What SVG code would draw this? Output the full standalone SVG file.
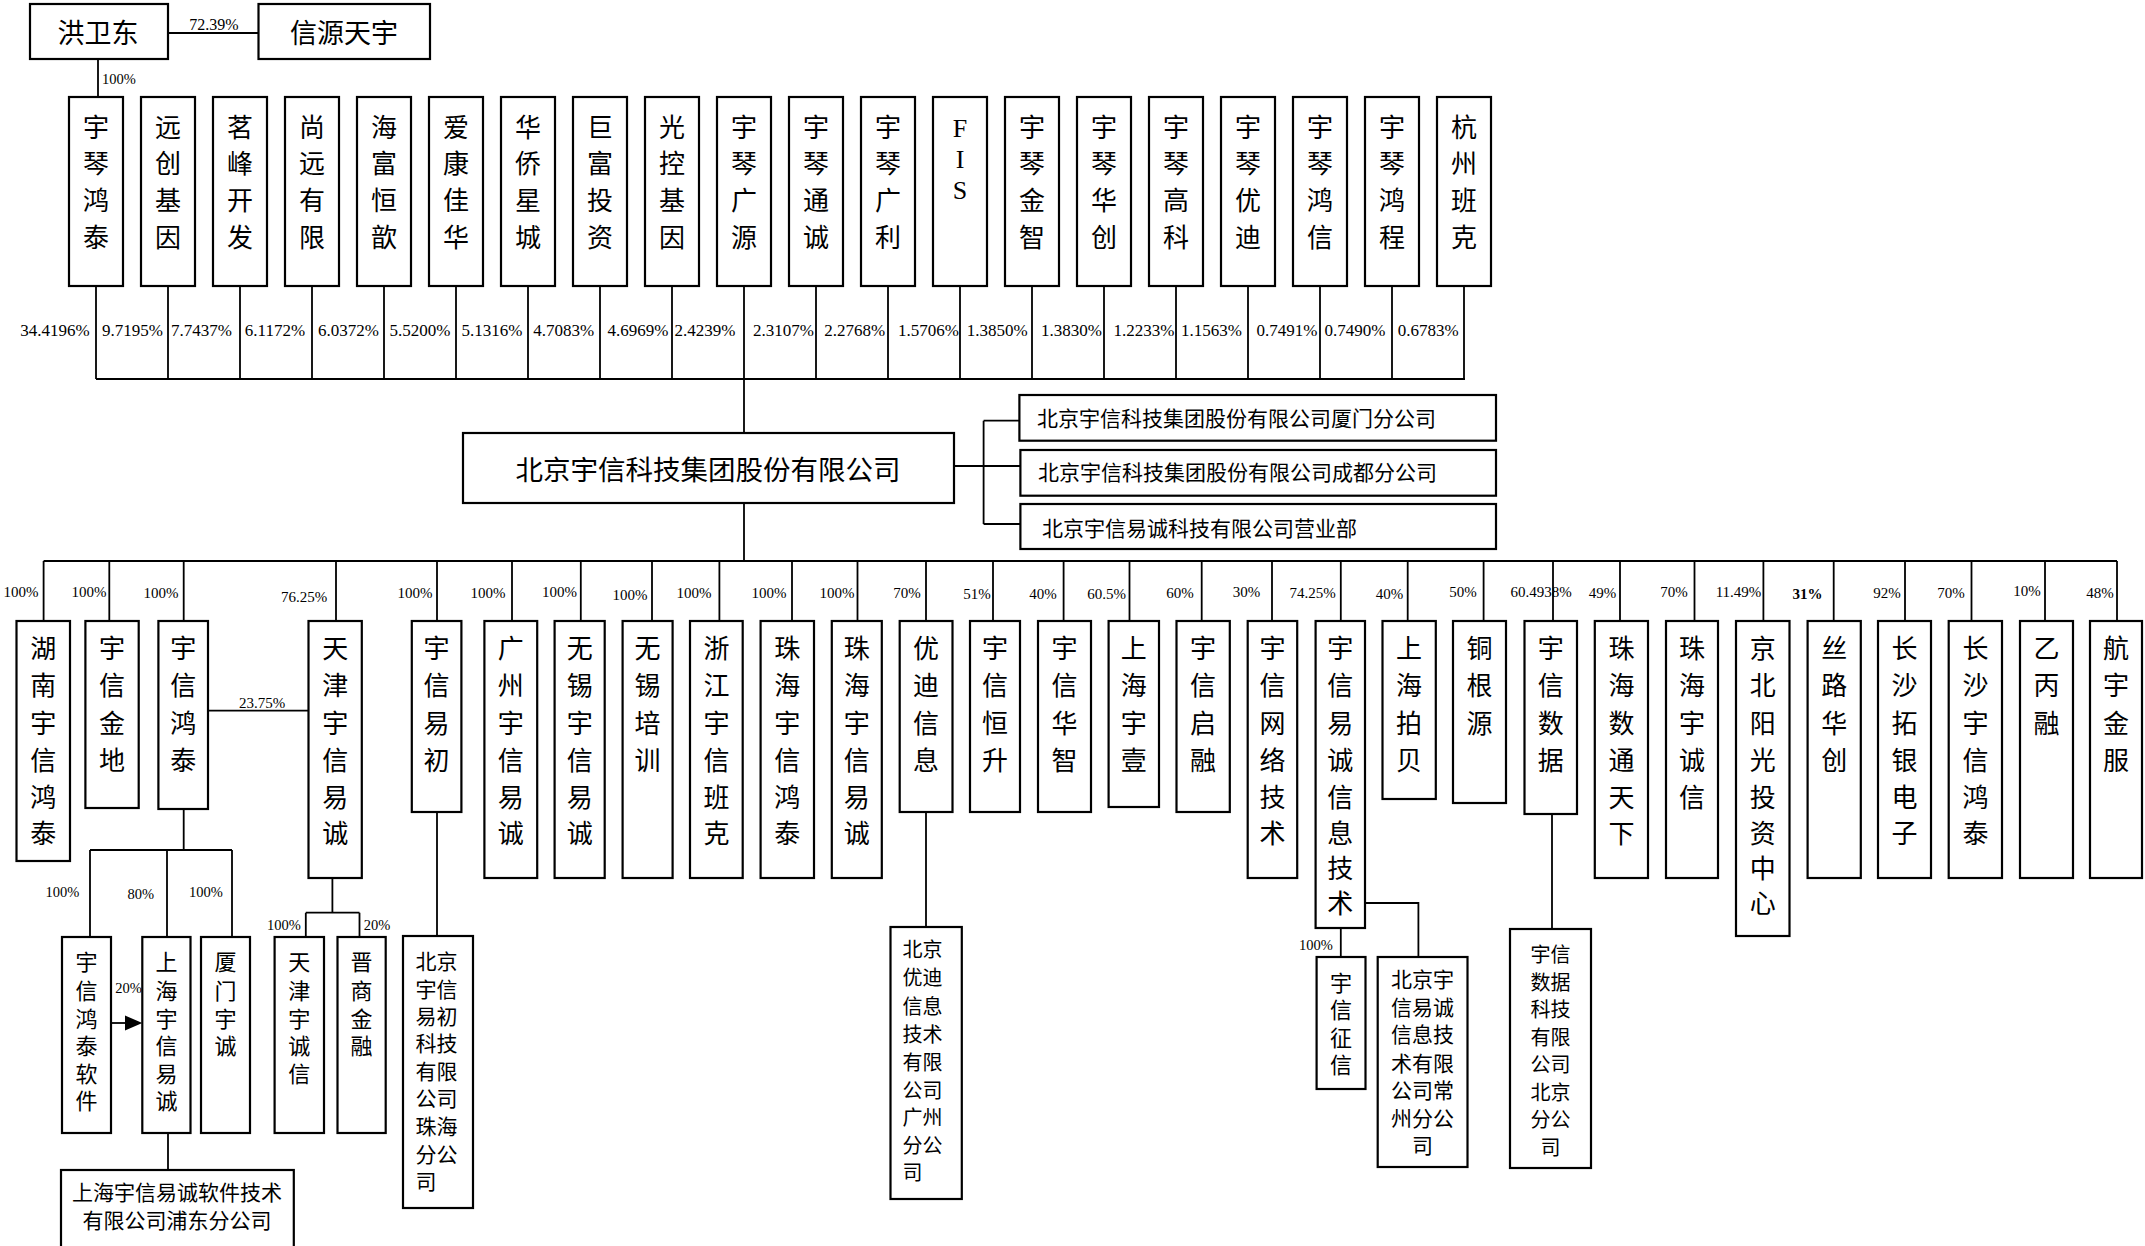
<svg xmlns="http://www.w3.org/2000/svg" width="2145" height="1246" viewBox="0 0 2145 1246">
<style>
rect{fill:#fff;stroke:#000;stroke-width:2.2}
.c path,.c line,.c polyline{fill:none;stroke:#000;stroke-width:1.8}
.c polygon{fill:#000;stroke:none}
text{font-family:"Liberation Serif","Noto Sans CJK SC",serif;fill:#000}
.v{font-size:26px;text-anchor:middle}
.s{font-size:22px;text-anchor:middle}
.m{font-size:21px}
.p{font-size:17px;text-anchor:middle}
.q{font-size:15px;text-anchor:middle}
.r{font-size:14.5px;text-anchor:middle}
.lat{font-family:"Liberation Serif",serif;font-size:26px;text-anchor:middle}
</style>

<g id="connectors" class="c">
<line x1="168" y1="33" x2="258.5" y2="33"/>
<line x1="98" y1="59" x2="98" y2="97"/>
<path d="M96,286V379 M168,286V379 M240,286V379 M312,286V379 M384,286V379 M456,286V379 M528,286V379 M600,286V379 M672,286V379 M744,286V379 M816,286V379 M888,286V379 M960,286V379 M1032,286V379 M1104,286V379 M1176,286V379 M1248,286V379 M1320,286V379 M1392,286V379 M1464,286V379"/>
<line x1="96" y1="379" x2="1465" y2="379"/>
<line x1="744" y1="379" x2="744" y2="433"/>
<line x1="954" y1="466" x2="1020" y2="466"/>
<path d="M983.6,420.7V524 M983.6,420.7H1019.4 M983.6,524H1020"/>
<line x1="744" y1="503" x2="744" y2="561"/>
<line x1="43.6" y1="561" x2="2117" y2="561"/>
<path d="M43.6,561V621 M109.3,561V621 M183.7,561V621 M336,561V621 M437,561V621 M512,561V621 M580.8,561V621 M652,561V621 M719.4,561V621 M792,561V621 M857.5,561V621 M926,561V621 M993,561V621 M1063.6,561V621 M1129.5,561V621 M1201.7,561V621 M1272,561V621 M1340.8,561V621 M1407.7,561V621 M1483.6,561V621 M1553,561V621 M1620,561V621 M1694.5,561V621 M1763.4,561V621 M1833.7,561V621 M1905,561V621 M1971.5,561V621 M2045,561V621 M2117,561V621"/>
<line x1="208" y1="710.7" x2="308.5" y2="710.7"/>
<path d="M183.7,809V850 M90,850H232 M90,850V937 M167,850V937 M232,850V937"/>
<line x1="111" y1="1023" x2="126" y2="1023"/>
<polygon points="125,1015.5 142.3,1023 125,1030.5"/>
<line x1="168" y1="1133" x2="168" y2="1170"/>
<path d="M332.4,878V912.7 M305.8,912.7H359.5 M305.8,912.7V937 M359.5,912.7V937"/>
<line x1="437" y1="812" x2="437" y2="936"/>
<line x1="926" y1="812" x2="926" y2="927"/>
<line x1="1340.8" y1="928" x2="1340.8" y2="957"/>
<polyline points="1365,903 1418.4,903 1418.4,957"/>
<line x1="1552" y1="814" x2="1552" y2="929"/>
</g>

<g id="labels">
<text class="p" x="214" y="30" style="font-size:16px">72.39%</text>
<text class="r" x="119" y="84">100%</text>
<text class="p" x="55" y="336">34.4196%</text>
<text class="p" x="132.5" y="336">9.7195%</text>
<text class="p" x="201.5" y="336">7.7437%</text>
<text class="p" x="275" y="336">6.1172%</text>
<text class="p" x="348.5" y="336">6.0372%</text>
<text class="p" x="420" y="336">5.5200%</text>
<text class="p" x="492" y="336">5.1316%</text>
<text class="p" x="563.6" y="336">4.7083%</text>
<text class="p" x="638" y="336">4.6969%</text>
<text class="p" x="705" y="336">2.4239%</text>
<text class="p" x="783.5" y="336">2.3107%</text>
<text class="p" x="854.6" y="336">2.2768%</text>
<text class="p" x="928.4" y="336">1.5706%</text>
<text class="p" x="997.3" y="336">1.3850%</text>
<text class="p" x="1071.4" y="336">1.3830%</text>
<text class="p" x="1144" y="336">1.2233%</text>
<text class="p" x="1211.5" y="336">1.1563%</text>
<text class="p" x="1287" y="336">0.7491%</text>
<text class="p" x="1355" y="336">0.7490%</text>
<text class="p" x="1428.3" y="336">0.6783%</text>
<text class="q" x="21" y="597">100%</text>
<text class="q" x="89" y="597">100%</text>
<text class="q" x="161" y="598">100%</text>
<text class="q" x="304" y="602">76.25%</text>
<text class="q" x="415" y="598">100%</text>
<text class="q" x="488" y="598">100%</text>
<text class="q" x="559.5" y="597">100%</text>
<text class="q" x="630" y="600">100%</text>
<text class="q" x="694" y="598">100%</text>
<text class="q" x="769" y="598">100%</text>
<text class="q" x="837" y="598">100%</text>
<text class="q" x="907" y="598">70%</text>
<text class="q" x="977" y="599">51%</text>
<text class="q" x="1043" y="599">40%</text>
<text class="q" x="1106.7" y="599">60.5%</text>
<text class="q" x="1180" y="598">60%</text>
<text class="q" x="1246.5" y="597">30%</text>
<text class="q" x="1312.5" y="598">74.25%</text>
<text class="q" x="1389.5" y="599">40%</text>
<text class="q" x="1463" y="597">50%</text>
<text class="q" x="1541" y="597">60.4938%</text>
<text class="q" x="1602.5" y="598">49%</text>
<text class="q" x="1674" y="597">70%</text>
<text class="q" x="1738.5" y="597">11.49%</text>
<text class="q" x="1807.5" y="599" font-weight="bold">31%</text>
<text class="q" x="1887" y="598">92%</text>
<text class="q" x="1951" y="598">70%</text>
<text class="q" x="2027" y="596">10%</text>
<text class="q" x="2100" y="598">48%</text>
<text class="q" x="262" y="708">23.75%</text>
<text class="r" x="62.5" y="897">100%</text>
<text class="r" x="140.7" y="899">80%</text>
<text class="r" x="206" y="897">100%</text>
<text class="r" x="128.5" y="993">20%</text>
<text class="r" x="284" y="930">100%</text>
<text class="r" x="377" y="930">20%</text>
<text class="r" x="1316" y="950">100%</text>
</g>

<g id="n_hongweidong"><rect x="30" y="4" width="138" height="55"/><text x="98" y="43" style="font-size:27px;text-anchor:middle">洪卫东</text></g>
<g id="n_xinyuantianyu"><rect x="258.5" y="4" width="171.5" height="55"/><text x="344" y="43" style="font-size:27px;text-anchor:middle">信源天宇</text></g>

<g id="n_t0"><rect x="69" y="97" width="54" height="189"/><text class="v"><tspan x="96" y="137">宇</tspan><tspan x="96" y="173">琴</tspan><tspan x="96" y="210">鸿</tspan><tspan x="96" y="247">泰</tspan></text></g>
<g id="n_t1"><rect x="141" y="97" width="54" height="189"/><text class="v"><tspan x="168" y="137">远</tspan><tspan x="168" y="173">创</tspan><tspan x="168" y="210">基</tspan><tspan x="168" y="247">因</tspan></text></g>
<g id="n_t2"><rect x="213" y="97" width="54" height="189"/><text class="v"><tspan x="240" y="137">茗</tspan><tspan x="240" y="173">峰</tspan><tspan x="240" y="210">开</tspan><tspan x="240" y="247">发</tspan></text></g>
<g id="n_t3"><rect x="285" y="97" width="54" height="189"/><text class="v"><tspan x="312" y="137">尚</tspan><tspan x="312" y="173">远</tspan><tspan x="312" y="210">有</tspan><tspan x="312" y="247">限</tspan></text></g>
<g id="n_t4"><rect x="357" y="97" width="54" height="189"/><text class="v"><tspan x="384" y="137">海</tspan><tspan x="384" y="173">富</tspan><tspan x="384" y="210">恒</tspan><tspan x="384" y="247">歆</tspan></text></g>
<g id="n_t5"><rect x="429" y="97" width="54" height="189"/><text class="v"><tspan x="456" y="137">爱</tspan><tspan x="456" y="173">康</tspan><tspan x="456" y="210">佳</tspan><tspan x="456" y="247">华</tspan></text></g>
<g id="n_t6"><rect x="501" y="97" width="54" height="189"/><text class="v"><tspan x="528" y="137">华</tspan><tspan x="528" y="173">侨</tspan><tspan x="528" y="210">星</tspan><tspan x="528" y="247">城</tspan></text></g>
<g id="n_t7"><rect x="573" y="97" width="54" height="189"/><text class="v"><tspan x="600" y="137">巨</tspan><tspan x="600" y="173">富</tspan><tspan x="600" y="210">投</tspan><tspan x="600" y="247">资</tspan></text></g>
<g id="n_t8"><rect x="645" y="97" width="54" height="189"/><text class="v"><tspan x="672" y="137">光</tspan><tspan x="672" y="173">控</tspan><tspan x="672" y="210">基</tspan><tspan x="672" y="247">因</tspan></text></g>
<g id="n_t9"><rect x="717" y="97" width="54" height="189"/><text class="v"><tspan x="744" y="137">宇</tspan><tspan x="744" y="173">琴</tspan><tspan x="744" y="210">广</tspan><tspan x="744" y="247">源</tspan></text></g>
<g id="n_t10"><rect x="789" y="97" width="54" height="189"/><text class="v"><tspan x="816" y="137">宇</tspan><tspan x="816" y="173">琴</tspan><tspan x="816" y="210">通</tspan><tspan x="816" y="247">诚</tspan></text></g>
<g id="n_t11"><rect x="861" y="97" width="54" height="189"/><text class="v"><tspan x="888" y="137">宇</tspan><tspan x="888" y="173">琴</tspan><tspan x="888" y="210">广</tspan><tspan x="888" y="247">利</tspan></text></g>
<g id="n_t12"><rect x="933" y="97" width="54" height="189"/><text class="lat"><tspan x="960" y="137">F</tspan><tspan x="960" y="168">I</tspan><tspan x="960" y="199">S</tspan></text></g>
<g id="n_t13"><rect x="1005" y="97" width="54" height="189"/><text class="v"><tspan x="1032" y="137">宇</tspan><tspan x="1032" y="173">琴</tspan><tspan x="1032" y="210">金</tspan><tspan x="1032" y="247">智</tspan></text></g>
<g id="n_t14"><rect x="1077" y="97" width="54" height="189"/><text class="v"><tspan x="1104" y="137">宇</tspan><tspan x="1104" y="173">琴</tspan><tspan x="1104" y="210">华</tspan><tspan x="1104" y="247">创</tspan></text></g>
<g id="n_t15"><rect x="1149" y="97" width="54" height="189"/><text class="v"><tspan x="1176" y="137">宇</tspan><tspan x="1176" y="173">琴</tspan><tspan x="1176" y="210">高</tspan><tspan x="1176" y="247">科</tspan></text></g>
<g id="n_t16"><rect x="1221" y="97" width="54" height="189"/><text class="v"><tspan x="1248" y="137">宇</tspan><tspan x="1248" y="173">琴</tspan><tspan x="1248" y="210">优</tspan><tspan x="1248" y="247">迪</tspan></text></g>
<g id="n_t17"><rect x="1293" y="97" width="54" height="189"/><text class="v"><tspan x="1320" y="137">宇</tspan><tspan x="1320" y="173">琴</tspan><tspan x="1320" y="210">鸿</tspan><tspan x="1320" y="247">信</tspan></text></g>
<g id="n_t18"><rect x="1365" y="97" width="54" height="189"/><text class="v"><tspan x="1392" y="137">宇</tspan><tspan x="1392" y="173">琴</tspan><tspan x="1392" y="210">鸿</tspan><tspan x="1392" y="247">程</tspan></text></g>
<g id="n_t19"><rect x="1437" y="97" width="54" height="189"/><text class="v"><tspan x="1464" y="137">杭</tspan><tspan x="1464" y="173">州</tspan><tspan x="1464" y="210">班</tspan><tspan x="1464" y="247">克</tspan></text></g>

<g id="n_main"><rect x="463" y="433" width="491" height="70"/><text x="708" y="480" style="font-size:27.5px;text-anchor:middle">北京宇信科技集团股份有限公司</text></g>
<g id="n_br1"><rect x="1019.4" y="395" width="476.6" height="45.7"/><text class="m" x="1037" y="426">北京宇信科技集团股份有限公司厦门分公司</text></g>
<g id="n_br2"><rect x="1020.4" y="450" width="475.6" height="45.7"/><text class="m" x="1038" y="480">北京宇信科技集团股份有限公司成都分公司</text></g>
<g id="n_br3"><rect x="1020.4" y="504" width="475.6" height="45"/><text class="m" x="1042" y="536">北京宇信易诚科技有限公司营业部</text></g>

<g id="n_b1"><rect x="16.5" y="621" width="53.5" height="240"/><text class="v"><tspan x="43.2" y="658">湖</tspan><tspan x="43.2" y="695">南</tspan><tspan x="43.2" y="733">宇</tspan><tspan x="43.2" y="770">信</tspan><tspan x="43.2" y="807">鸿</tspan><tspan x="43.2" y="843">泰</tspan></text></g>
<g id="n_b2"><rect x="85.4" y="621" width="53.3" height="187"/><text class="v"><tspan x="112" y="658">宇</tspan><tspan x="112" y="695">信</tspan><tspan x="112" y="733">金</tspan><tspan x="112" y="770">地</tspan></text></g>
<g id="n_b3"><rect x="158.4" y="621" width="49.6" height="188"/><text class="v"><tspan x="183.2" y="658">宇</tspan><tspan x="183.2" y="695">信</tspan><tspan x="183.2" y="733">鸿</tspan><tspan x="183.2" y="770">泰</tspan></text></g>
<g id="n_b4"><rect x="308.5" y="621" width="53.3" height="257"/><text class="v"><tspan x="335.2" y="658">天</tspan><tspan x="335.2" y="695">津</tspan><tspan x="335.2" y="733">宇</tspan><tspan x="335.2" y="770">信</tspan><tspan x="335.2" y="807">易</tspan><tspan x="335.2" y="843">诚</tspan></text></g>
<g id="n_b5"><rect x="411.8" y="621" width="49.6" height="191"/><text class="v"><tspan x="436.6" y="658">宇</tspan><tspan x="436.6" y="695">信</tspan><tspan x="436.6" y="733">易</tspan><tspan x="436.6" y="770">初</tspan></text></g>
<g id="n_b6"><rect x="484.4" y="621" width="52.8" height="257"/><text class="v"><tspan x="510.8" y="658">广</tspan><tspan x="510.8" y="695">州</tspan><tspan x="510.8" y="733">宇</tspan><tspan x="510.8" y="770">信</tspan><tspan x="510.8" y="807">易</tspan><tspan x="510.8" y="843">诚</tspan></text></g>
<g id="n_b7"><rect x="554.6" y="621" width="50.1" height="257"/><text class="v"><tspan x="579.7" y="658">无</tspan><tspan x="579.7" y="695">锡</tspan><tspan x="579.7" y="733">宇</tspan><tspan x="579.7" y="770">信</tspan><tspan x="579.7" y="807">易</tspan><tspan x="579.7" y="843">诚</tspan></text></g>
<g id="n_b8"><rect x="622.6" y="621" width="50" height="257"/><text class="v"><tspan x="647.6" y="658">无</tspan><tspan x="647.6" y="695">锡</tspan><tspan x="647.6" y="733">培</tspan><tspan x="647.6" y="770">训</tspan></text></g>
<g id="n_b9"><rect x="690" y="621" width="52.7" height="257"/><text class="v"><tspan x="716.4" y="658">浙</tspan><tspan x="716.4" y="695">江</tspan><tspan x="716.4" y="733">宇</tspan><tspan x="716.4" y="770">信</tspan><tspan x="716.4" y="807">班</tspan><tspan x="716.4" y="843">克</tspan></text></g>
<g id="n_b10"><rect x="760.6" y="621" width="53.4" height="257"/><text class="v"><tspan x="787.3" y="658">珠</tspan><tspan x="787.3" y="695">海</tspan><tspan x="787.3" y="733">宇</tspan><tspan x="787.3" y="770">信</tspan><tspan x="787.3" y="807">鸿</tspan><tspan x="787.3" y="843">泰</tspan></text></g>
<g id="n_b11"><rect x="831.8" y="621" width="50" height="257"/><text class="v"><tspan x="856.8" y="658">珠</tspan><tspan x="856.8" y="695">海</tspan><tspan x="856.8" y="733">宇</tspan><tspan x="856.8" y="770">信</tspan><tspan x="856.8" y="807">易</tspan><tspan x="856.8" y="843">诚</tspan></text></g>
<g id="n_b12"><rect x="899.7" y="621" width="52.8" height="191"/><text class="v"><tspan x="926.1" y="658">优</tspan><tspan x="926.1" y="695">迪</tspan><tspan x="926.1" y="733">信</tspan><tspan x="926.1" y="770">息</tspan></text></g>
<g id="n_b13"><rect x="970" y="621" width="50" height="191"/><text class="v"><tspan x="995" y="658">宇</tspan><tspan x="995" y="695">信</tspan><tspan x="995" y="733">恒</tspan><tspan x="995" y="770">升</tspan></text></g>
<g id="n_b14"><rect x="1038" y="621" width="53" height="191"/><text class="v"><tspan x="1064.5" y="658">宇</tspan><tspan x="1064.5" y="695">信</tspan><tspan x="1064.5" y="733">华</tspan><tspan x="1064.5" y="770">智</tspan></text></g>
<g id="n_b15"><rect x="1108.6" y="621" width="50.4" height="186"/><text class="v"><tspan x="1133.8" y="658">上</tspan><tspan x="1133.8" y="695">海</tspan><tspan x="1133.8" y="733">宇</tspan><tspan x="1133.8" y="770">壹</tspan></text></g>
<g id="n_b16"><rect x="1176.5" y="621" width="53.3" height="191"/><text class="v"><tspan x="1203" y="658">宇</tspan><tspan x="1203" y="695">信</tspan><tspan x="1203" y="733">启</tspan><tspan x="1203" y="770">融</tspan></text></g>
<g id="n_b17"><rect x="1247.7" y="621" width="49.5" height="257"/><text class="v"><tspan x="1272.5" y="658">宇</tspan><tspan x="1272.5" y="695">信</tspan><tspan x="1272.5" y="733">网</tspan><tspan x="1272.5" y="770">络</tspan><tspan x="1272.5" y="807">技</tspan><tspan x="1272.5" y="843">术</tspan></text></g>
<g id="n_b18"><rect x="1315.6" y="621" width="49.4" height="307"/><text class="v"><tspan x="1340.3" y="658">宇</tspan><tspan x="1340.3" y="695">信</tspan><tspan x="1340.3" y="733">易</tspan><tspan x="1340.3" y="770">诚</tspan><tspan x="1340.3" y="807">信</tspan><tspan x="1340.3" y="843">息</tspan><tspan x="1340.3" y="878">技</tspan><tspan x="1340.3" y="913">术</tspan></text></g>
<g id="n_b19"><rect x="1382.5" y="621" width="53.3" height="178"/><text class="v"><tspan x="1409" y="658">上</tspan><tspan x="1409" y="695">海</tspan><tspan x="1409" y="733">拍</tspan><tspan x="1409" y="770">贝</tspan></text></g>
<g id="n_b20"><rect x="1453" y="621" width="53" height="182"/><text class="v"><tspan x="1479.5" y="658">铜</tspan><tspan x="1479.5" y="695">根</tspan><tspan x="1479.5" y="733">源</tspan></text></g>
<g id="n_b21"><rect x="1524.5" y="621" width="52.5" height="193"/><text class="v"><tspan x="1550.8" y="658">宇</tspan><tspan x="1550.8" y="695">信</tspan><tspan x="1550.8" y="733">数</tspan><tspan x="1550.8" y="770">据</tspan></text></g>
<g id="n_b22"><rect x="1594.8" y="621" width="53.2" height="257"/><text class="v"><tspan x="1621.4" y="658">珠</tspan><tspan x="1621.4" y="695">海</tspan><tspan x="1621.4" y="733">数</tspan><tspan x="1621.4" y="770">通</tspan><tspan x="1621.4" y="807">天</tspan><tspan x="1621.4" y="843">下</tspan></text></g>
<g id="n_b23"><rect x="1666" y="621" width="52" height="257"/><text class="v"><tspan x="1692" y="658">珠</tspan><tspan x="1692" y="695">海</tspan><tspan x="1692" y="733">宇</tspan><tspan x="1692" y="770">诚</tspan><tspan x="1692" y="807">信</tspan></text></g>
<g id="n_b24"><rect x="1736" y="621" width="53.5" height="315"/><text class="v"><tspan x="1762.8" y="658">京</tspan><tspan x="1762.8" y="695">北</tspan><tspan x="1762.8" y="733">阳</tspan><tspan x="1762.8" y="770">光</tspan><tspan x="1762.8" y="807">投</tspan><tspan x="1762.8" y="843">资</tspan><tspan x="1762.8" y="878">中</tspan><tspan x="1762.8" y="913">心</tspan></text></g>
<g id="n_b25"><rect x="1807.6" y="621" width="53.2" height="257"/><text class="v"><tspan x="1834.2" y="658">丝</tspan><tspan x="1834.2" y="695">路</tspan><tspan x="1834.2" y="733">华</tspan><tspan x="1834.2" y="770">创</tspan></text></g>
<g id="n_b26"><rect x="1878" y="621" width="53" height="257"/><text class="v"><tspan x="1904.5" y="658">长</tspan><tspan x="1904.5" y="695">沙</tspan><tspan x="1904.5" y="733">拓</tspan><tspan x="1904.5" y="770">银</tspan><tspan x="1904.5" y="807">电</tspan><tspan x="1904.5" y="843">子</tspan></text></g>
<g id="n_b27"><rect x="1948.7" y="621" width="53.3" height="257"/><text class="v"><tspan x="1975.4" y="658">长</tspan><tspan x="1975.4" y="695">沙</tspan><tspan x="1975.4" y="733">宇</tspan><tspan x="1975.4" y="770">信</tspan><tspan x="1975.4" y="807">鸿</tspan><tspan x="1975.4" y="843">泰</tspan></text></g>
<g id="n_b28"><rect x="2020" y="621" width="53" height="257"/><text class="v"><tspan x="2046.5" y="658">乙</tspan><tspan x="2046.5" y="695">丙</tspan><tspan x="2046.5" y="733">融</tspan></text></g>
<g id="n_b29"><rect x="2090" y="621" width="52" height="257"/><text class="v"><tspan x="2116" y="658">航</tspan><tspan x="2116" y="695">宇</tspan><tspan x="2116" y="733">金</tspan><tspan x="2116" y="770">服</tspan></text></g>

<g id="n_c1"><rect x="62" y="937" width="49" height="196"/><text class="s"><tspan x="86.5" y="970">宇</tspan><tspan x="86.5" y="998.5">信</tspan><tspan x="86.5" y="1026.5">鸿</tspan><tspan x="86.5" y="1053.5">泰</tspan><tspan x="86.5" y="1081.5">软</tspan><tspan x="86.5" y="1108.5">件</tspan></text></g>
<g id="n_c2"><rect x="142.3" y="937" width="48.2" height="196"/><text class="s"><tspan x="166.4" y="970">上</tspan><tspan x="166.4" y="998.5">海</tspan><tspan x="166.4" y="1026.5">宇</tspan><tspan x="166.4" y="1053.5">信</tspan><tspan x="166.4" y="1081.5">易</tspan><tspan x="166.4" y="1108.5">诚</tspan></text></g>
<g id="n_c3"><rect x="201" y="937" width="49" height="196"/><text class="s"><tspan x="225.5" y="970">厦</tspan><tspan x="225.5" y="998.5">门</tspan><tspan x="225.5" y="1026.5">宇</tspan><tspan x="225.5" y="1053.5">诚</tspan></text></g>
<g id="n_c4"><rect x="61" y="1170" width="232.8" height="80"/><text class="m" style="text-anchor:middle"><tspan x="177" y="1200">上海宇信易诚软件技术</tspan><tspan x="177" y="1228">有限公司浦东分公司</tspan></text></g>
<g id="n_c5"><rect x="274.6" y="937" width="49.4" height="196"/><text class="s"><tspan x="299.3" y="970">天</tspan><tspan x="299.3" y="998.5">津</tspan><tspan x="299.3" y="1026.5">宇</tspan><tspan x="299.3" y="1053.5">诚</tspan><tspan x="299.3" y="1081.5">信</tspan></text></g>
<g id="n_c6"><rect x="337.5" y="937" width="48.2" height="196"/><text class="s"><tspan x="361.6" y="970">晋</tspan><tspan x="361.6" y="998.5">商</tspan><tspan x="361.6" y="1026.5">金</tspan><tspan x="361.6" y="1053.5">融</tspan></text></g>
<g id="n_c7"><rect x="403" y="936" width="70" height="272"/><text class="m"><tspan x="415.5" y="969">北京</tspan><tspan x="415.5" y="997">宇信</tspan><tspan x="415.5" y="1024">易初</tspan><tspan x="415.5" y="1051">科技</tspan><tspan x="415.5" y="1079">有限</tspan><tspan x="415.5" y="1106">公司</tspan><tspan x="415.5" y="1134">珠海</tspan><tspan x="415.5" y="1162">分公</tspan><tspan x="415.5" y="1189">司</tspan></text></g>
<g id="n_c8"><rect x="890.5" y="927" width="71.3" height="272"/><text class="m" style="font-size:20px"><tspan x="902.6" y="957">北京</tspan><tspan x="902.6" y="985">优迪</tspan><tspan x="902.6" y="1014">信息</tspan><tspan x="902.6" y="1042">技术</tspan><tspan x="902.6" y="1070">有限</tspan><tspan x="902.6" y="1098">公司</tspan><tspan x="902.6" y="1125">广州</tspan><tspan x="902.6" y="1153">分公</tspan><tspan x="902.6" y="1180">司</tspan></text></g>
<g id="n_c9"><rect x="1316.6" y="957" width="48.9" height="132"/><text class="s"><tspan x="1341" y="991">宇</tspan><tspan x="1341" y="1018">信</tspan><tspan x="1341" y="1046">征</tspan><tspan x="1341" y="1073">信</tspan></text></g>
<g id="n_c10"><rect x="1377.7" y="957" width="89.8" height="210"/><text class="m" style="text-anchor:middle"><tspan x="1422.6" y="987">北京宇</tspan><tspan x="1422.6" y="1015">信易诚</tspan><tspan x="1422.6" y="1042">信息技</tspan><tspan x="1422.6" y="1071">术有限</tspan><tspan x="1422.6" y="1098">公司常</tspan><tspan x="1422.6" y="1126">州分公</tspan><tspan x="1422.6" y="1153">司</tspan></text></g>
<g id="n_c11"><rect x="1510" y="929" width="81" height="239"/><text class="m" style="font-size:20px;text-anchor:middle"><tspan x="1550.5" y="962">宇信</tspan><tspan x="1550.5" y="990">数据</tspan><tspan x="1550.5" y="1017">科技</tspan><tspan x="1550.5" y="1045">有限</tspan><tspan x="1550.5" y="1072">公司</tspan><tspan x="1550.5" y="1100">北京</tspan><tspan x="1550.5" y="1127">分公</tspan><tspan x="1550.5" y="1155">司</tspan></text></g>
</svg>
